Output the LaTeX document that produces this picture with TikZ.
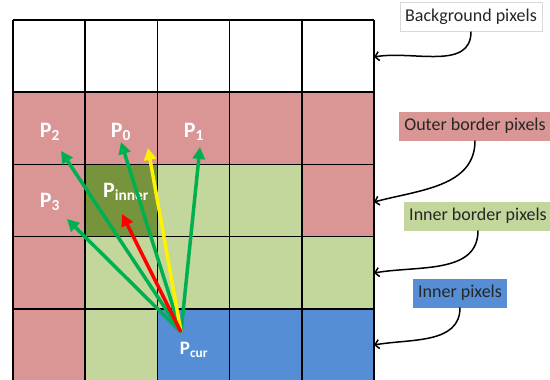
\documentclass[tikz,border=0pt]{standalone}
\usepackage{fontspec}
\setmainfont{Carlito}
\usetikzlibrary{arrows.meta}
\definecolor{outerpink}{HTML}{D99694}
\definecolor{innerdark}{HTML}{77933C}
\definecolor{innerlight}{HTML}{C3D69B}
\definecolor{innerblue}{HTML}{558ED5}
\definecolor{raygreen}{HTML}{00B050}
\definecolor{legendtext}{HTML}{262626}
\begin{document}
\begin{tikzpicture}[x=1pt, y=-1pt,
    ray/.style={line width=3.5pt, -{Triangle[length=12pt, width=12pt]}},
    legend/.style={text=legendtext, font=\fontsize{18}{21}\selectfont, inner sep=5pt, minimum height=29pt},
    pointer/.style={line width=1.5pt, -{Straight Barb[length=4pt, width=9pt]}},
    plabel/.style={text=white, font=\bfseries\fontsize{22}{26}\selectfont}]
    \useasboundingbox (0,0) rectangle (550,380);

    % cells
    \foreach \c/\r/\col in {0/1/outerpink, 1/1/outerpink, 2/1/outerpink, 3/1/outerpink, 4/1/outerpink,
        0/2/outerpink, 1/2/innerdark, 2/2/innerlight, 3/2/innerlight, 4/2/outerpink,
        0/3/outerpink, 1/3/innerlight, 2/3/innerlight, 3/3/innerlight, 4/3/innerlight,
        0/4/outerpink, 1/4/innerlight, 2/4/innerblue, 3/4/innerblue, 4/4/innerblue}
        \fill[\col] ({13+72.2*\c},{20+72.2*\r}) rectangle +(72.2,72.2);
    \foreach \i in {0,...,5} {
        \draw[line width=1.5pt] ({13+72.2*\i},20) -- ++(0,361);
        \draw[line width=1.5pt] (13,{20+72.2*\i}) -- ++(361,0);
    }

    % labels in the grid
    \node[plabel] (p2) at (50,132) {P\textsubscript{2}};
    \node[plabel] (p0) at (121,132) {P\textsubscript{0}};
    \node[plabel] (p1) at (194,132) {P\textsubscript{1}};
    \node[plabel] (p3) at (50,202) {P\textsubscript{3}};
    \node[plabel] (pinner) at (126,192) {P\textsubscript{inner}};
    \node[plabel, font=\bfseries\fontsize{19}{23}\selectfont] (pcurlabel) at (194,350) {P\textsubscript{cur}};

    % rays
    \coordinate (pcur) at (181,332);
    \coordinate (tip2) at (61,151);
    \coordinate (tip0) at (121,142);
    \coordinate (tipy) at (148,148);
    \coordinate (tip1) at (200,147);
    \coordinate (tip3) at (67,219);
    \coordinate (tipr) at (122,214);
    \draw[ray, raygreen] (pcur) -- (tip3);
    \draw[ray, raygreen] (pcur) -- (tip2);
    \draw[ray, raygreen] (pcur) -- (tip0);
    \draw[ray, raygreen] (pcur) -- (tip1);
    \draw[ray, yellow] (pcur) -- (tipy);
    \draw[ray, red] (pcur) -- (tipr);

    % legend
    \node[legend, draw=gray!30, fill=white] (background) at (471,17) {Background pixels};
    \node[legend, fill=outerpink] (outer) at (475,126) {Outer border pixels};
    \node[legend, fill=innerlight] (innerborder) at (478,216) {Inner border pixels};
    \node[legend, fill=innerblue] (inner) at (460,293) {Inner pixels};

    \coordinate (edge0) at (374,57);
    \coordinate (edge2) at (374,202);
    \coordinate (edge3) at (374,273);
    \coordinate (edge4) at (374,345);
    \draw[pointer] (background.south) to[out=-90, in=10] (edge0);
    \draw[pointer] (outer.south) to[out=-90, in=15] (edge2);
    \draw[pointer] (innerborder.south) to[out=-90, in=10] (edge3);
    \draw[pointer] (inner.south) to[out=-90, in=10] (edge4);
\end{tikzpicture}
\end{document}
